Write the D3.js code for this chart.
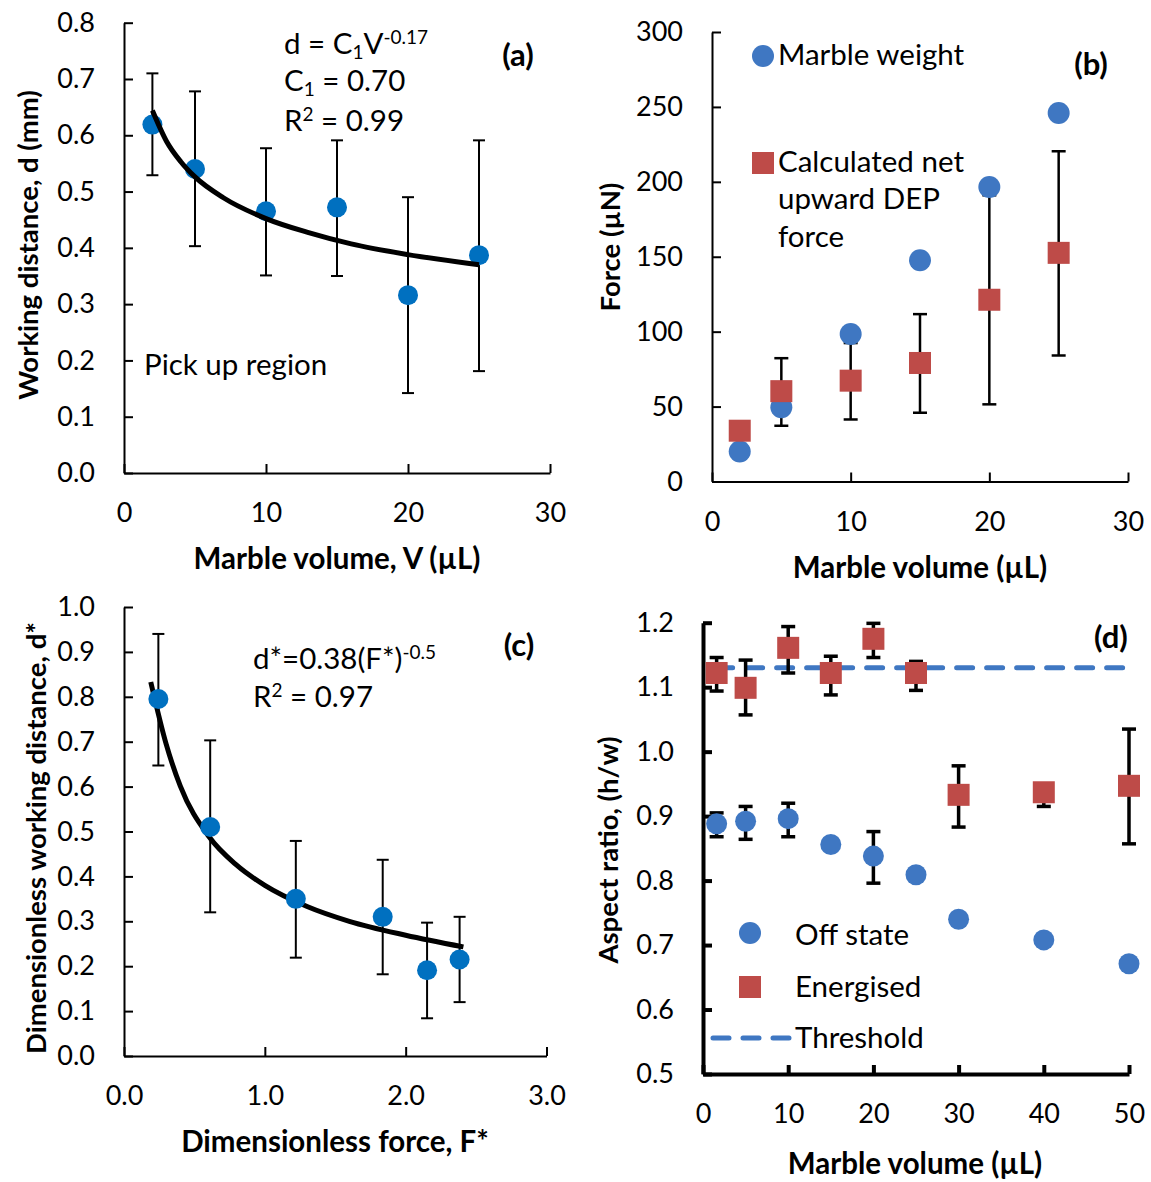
<!DOCTYPE html>
<html>
<head>
<meta charset="UTF-8">
<title>Liquid marble working distance and DEP force</title>
<script src="https://d3js.org/d3.v7.min.js"></script>
<style>
  body { margin: 0; background: #fff; }
  svg text { font-family: Lato, "Open Sans", sans-serif; fill: #000; }
  .tick text { font-size: 27px; }
  .title { font-size: 29.5px; font-weight: bold; }
  .ytitle { font-size: 27.5px; font-weight: bold; }
  .note { font-size: 29.5px; }
  .tag { font-size: 31px; font-weight: bold; }
</style>
</head>
<body>
<svg id="fig" width="1151" height="1182"></svg>
<script>
// ---- (a) working distance vs marble volume
const volA = [2, 5, 10, 15, 20, 25];
const distA = [0.619, 0.540, 0.465, 0.472, 0.316, 0.387];
const distAHi = [0.710, 0.678, 0.577, 0.591, 0.490, 0.591];
const distALo = [0.529, 0.403, 0.351, 0.350, 0.142, 0.181];
const fitVolA = [2, 3, 4, 5, 7, 10, 13, 16, 20, 25];
const fitDistA = [0.644, 0.589, 0.553, 0.526, 0.489, 0.452, 0.427, 0.407, 0.388, 0.370];
const xTicksA = [0, 10, 20, 30];
const yTicksA = [0, 0.1, 0.2, 0.3, 0.4, 0.5, 0.6, 0.7, 0.8];

// ---- (b) forces
const volB = [2, 5, 10, 15, 20, 25];
const weightB = [20, 49.5, 98.4, 147.6, 196.6, 246];
const depB = [33.9, 60.3, 67.3, 79.1, 121.3, 152.6];
const depBHi = [null, 82.3, 92.4, 111.7, 191, 220.4];
const depBLo = [null, 37.2, 41.4, 45.9, 51.5, 84.1];
const xTicksB = [0, 10, 20, 30];
const yTicksB = [0, 50, 100, 150, 200, 250, 300];

// ---- (c) dimensionless
const forceC = [0.244, 0.612, 1.22, 1.837, 2.152, 2.383];
const distC = [0.795, 0.510, 0.350, 0.310, 0.191, 0.215];
const distCHi = [0.940, 0.703, 0.479, 0.437, 0.297, 0.310];
const distCLo = [0.647, 0.320, 0.219, 0.182, 0.084, 0.120];
const fitForceC = [0.19, 0.3, 0.4, 0.6, 0.8, 1.0, 1.3, 1.6, 2.0, 2.41];
const fitDistC = [0.833, 0.694, 0.601, 0.490, 0.425, 0.380, 0.333, 0.300, 0.269, 0.243];
const xTicksC = [0, 1, 2, 3];
const yTicksC = [0, 0.1, 0.2, 0.3, 0.4, 0.5, 0.6, 0.7, 0.8, 0.9, 1.0];

// ---- (d) aspect ratio
const volD = [1.6, 5, 10, 15, 20, 25, 30, 40, 50];
const offD = [0.888, 0.892, 0.896, 0.856, 0.838, 0.809, 0.740, 0.708, 0.671];
const offDHi = [0.905, 0.915, 0.920, null, 0.876, null, null, null, null];
const offDLo = [0.868, 0.864, 0.868, null, 0.796, null, null, null, null];
const onD = [1.122, 1.099, 1.161, 1.122, 1.175, 1.122, 0.933, 0.937, 0.947];
const onDHi = [1.146, 1.142, 1.194, 1.148, 1.199, 1.140, 0.978, 0.950, 1.035];
const onDLo = [1.094, 1.057, 1.122, 1.088, 1.146, 1.095, 0.883, 0.915, 0.857];
const thresholdVol = [1.6, 50];
const thresholdD = [1.13, 1.13];
const xTicksD = [0, 10, 20, 30, 40, 50];
const yTicksD = [0.5, 0.6, 0.7, 0.8, 0.9, 1.0, 1.1, 1.2];

const blueDark = "#0070c0";
const blue = "#3f77c2";
const red = "#be4b48";

const svg = d3.select("#fig");

function drawAxes(x, y, xTicks, yTicks, fx, fy, sw) {
  const ya = svg.append("g")
    .attr("transform", `translate(${x.range()[0]},0)`)
    .call(d3.axisLeft(y).tickValues(yTicks).tickFormat(fy)
      .tickSizeInner(-9).tickSizeOuter(0).tickPadding(29));
  const xa = svg.append("g")
    .attr("transform", `translate(0,${y.range()[0]})`)
    .call(d3.axisBottom(x).tickValues(xTicks).tickFormat(fx)
      .tickSizeInner(-9).tickSizeOuter(0).tickPadding(30));
  [ya, xa].forEach(a => {
    a.attr("font-family", null).attr("font-size", null);
    a.selectAll("path, line").attr("stroke", "#000").attr("stroke-width", sw);
  });
}

function errorBars(xs, hi, lo, x, y, cap, sw) {
  const rows = xs.map((v, i) => ({ v, hi: hi[i], lo: lo[i] })).filter(d => d.hi != null);
  const g = svg.append("g").attr("stroke", "#000").attr("stroke-width", sw);
  g.selectAll(".v").data(rows).join("line")
    .attr("x1", d => x(d.v)).attr("x2", d => x(d.v))
    .attr("y1", d => y(d.hi)).attr("y2", d => y(d.lo));
  g.selectAll(".t").data(rows).join("line")
    .attr("x1", d => x(d.v) - cap).attr("x2", d => x(d.v) + cap)
    .attr("y1", d => y(d.hi)).attr("y2", d => y(d.hi));
  g.selectAll(".b").data(rows).join("line")
    .attr("x1", d => x(d.v) - cap).attr("x2", d => x(d.v) + cap)
    .attr("y1", d => y(d.lo)).attr("y2", d => y(d.lo));
}

function dots(xs, ys, x, y, r, color) {
  svg.append("g").selectAll("circle").data(xs).join("circle")
    .attr("cx", d => x(d)).attr("cy", (d, i) => y(ys[i]))
    .attr("r", r).attr("fill", color);
}

function squares(xs, ys, x, y, s, color) {
  svg.append("g").selectAll("rect").data(xs).join("rect")
    .attr("x", d => x(d) - s / 2).attr("y", (d, i) => y(ys[i]) - s / 2)
    .attr("width", s).attr("height", s).attr("fill", color);
}

function fitLine(xs, ys, x, y) {
  svg.append("path")
    .datum(xs.map((v, i) => [v, ys[i]]))
    .attr("fill", "none").attr("stroke", "#000").attr("stroke-width", 5)
    .attr("d", d3.line().x(d => x(d[0])).y(d => y(d[1])).curve(d3.curveMonotoneX));
}

function text(x, y, str, cls, anchor, rotate) {
  const t = svg.append("text").attr("class", cls).text(str);
  if (rotate) t.attr("transform", `translate(${x},${y}) rotate(-90)`);
  else t.attr("x", x).attr("y", y);
  t.attr("text-anchor", anchor || "start");
  return t;
}

// small sub/superscript pieces
function sub(t, s) { t.append("tspan").text(s).attr("font-size", 19).attr("dy", 5); }
function sup(t, s) { t.append("tspan").text(s).attr("font-size", 19).attr("dy", -10); }

const f0 = d3.format("d"), f1 = d3.format(".1f");

// ===== (a)
const xA = d3.scaleLinear().domain([0, 30]).range([124, 550]);
const yA = d3.scaleLinear().domain([0, 0.8]).range([473, 22.7]);
drawAxes(xA, yA, xTicksA, yTicksA, f0, f1, 2);
errorBars(volA, distAHi, distALo, xA, yA, 6, 2);
dots(volA, distA, xA, yA, 10, blueDark);
fitLine(fitVolA, fitDistA, xA, yA);
text(337, 569, "Marble volume, V (µL)", "title", "middle");
text(38, 245, "Working distance, d (mm)", "ytitle", "middle", true);
text(518, 66, "(a)", "tag", "middle");
text(144, 375, "Pick up region", "note");
const eqA = text(284, 54, "", "note");
eqA.append("tspan").text("d = C");
sub(eqA, "1");
eqA.append("tspan").text("V").attr("dy", -5);
sup(eqA, "-0.17");
const c1A = text(284, 91, "", "note");
c1A.append("tspan").text("C");
sub(c1A, "1");
c1A.append("tspan").text(" = 0.70").attr("dy", -5);
const r2A = text(284, 131, "", "note");
r2A.append("tspan").text("R");
sup(r2A, "2");
r2A.append("tspan").text(" = 0.99").attr("dy", 10);

// ===== (b)
const xB = d3.scaleLinear().domain([0, 30]).range([712, 1128]);
const yB = d3.scaleLinear().domain([0, 300]).range([481.5, 32]);
drawAxes(xB, yB, xTicksB, yTicksB, f0, f0, 2);
errorBars(volB, depBHi, depBLo, xB, yB, 7, 2.5);
dots(volB, weightB, xB, yB, 11, blue);
squares(volB, depB, xB, yB, 22, red);
text(920, 578, "Marble volume (µL)", "title", "middle");
text(620, 247, "Force (µN)", "ytitle", "middle", true);
text(1091, 75, "(b)", "tag", "middle");
svg.append("circle").attr("cx", 763).attr("cy", 56).attr("r", 11).attr("fill", blue);
text(778, 65, "Marble weight", "note");
svg.append("rect").attr("x", 752).attr("y", 152).attr("width", 22).attr("height", 22).attr("fill", red);
text(778, 172, "Calculated net", "note");
text(778, 209, "upward DEP", "note");
text(778, 247, "force", "note");

// ===== (c)
const xC = d3.scaleLinear().domain([0, 3]).range([124, 546.5]);
const yC = d3.scaleLinear().domain([0, 1]).range([1056, 607]);
drawAxes(xC, yC, xTicksC, yTicksC, f1, f1, 2);
errorBars(forceC, distCHi, distCLo, xC, yC, 6, 2);
fitLine(fitForceC, fitDistC, xC, yC);
dots(forceC, distC, xC, yC, 10, blueDark);
text(335, 1152, "Dimensionless force, F*", "title", "middle");
text(46, 838, "Dimensionless working distance, d*", "ytitle", "middle", true);
text(519, 656, "(c)", "tag", "middle");
const eqC = text(253, 669, "", "note");
eqC.append("tspan").text("d*=0.38(F*)");
sup(eqC, "-0.5");
const r2C = text(253, 707, "", "note");
r2C.append("tspan").text("R");
sup(r2C, "2");
r2C.append("tspan").text(" = 0.97").attr("dy", 10);

// ===== (d)
const xD = d3.scaleLinear().domain([0, 50]).range([703, 1129]);
const yD = d3.scaleLinear().domain([0.5, 1.2]).range([1074, 622.7]);
drawAxes(xD, yD, xTicksD, yTicksD, f0, f1, 4);
svg.append("path")
  .datum(thresholdVol.map((v, i) => [v, thresholdD[i]]))
  .attr("fill", "none").attr("stroke", blue).attr("stroke-width", 5)
  .attr("stroke-dasharray", "16,14").attr("stroke-linecap", "round")
  .attr("d", d3.line().x(d => xD(d[0])).y(d => yD(d[1])));
errorBars(volD, offDHi, offDLo, xD, yD, 7, 3.5);
errorBars(volD, onDHi, onDLo, xD, yD, 7, 3.5);
dots(volD, offD, xD, yD, 10.5, blue);
squares(volD, onD, xD, yD, 22, red);
text(915, 1174, "Marble volume (µL)", "title", "middle");
text(618, 850, "Aspect ratio, (h/w)", "ytitle", "middle", true);
text(1111, 648, "(d)", "tag", "middle");
svg.append("circle").attr("cx", 750).attr("cy", 933).attr("r", 11).attr("fill", blue);
text(795, 945, "Off state", "note");
svg.append("rect").attr("x", 739).attr("y", 976).attr("width", 22).attr("height", 22).attr("fill", red);
text(795, 997, "Energised", "note");
svg.append("line").attr("x1", 713).attr("x2", 790).attr("y1", 1038).attr("y2", 1038)
  .attr("stroke", blue).attr("stroke-width", 5)
  .attr("stroke-dasharray", "16,14").attr("stroke-linecap", "round");
text(795, 1048, "Threshold", "note");
</script>
</body>
</html>
